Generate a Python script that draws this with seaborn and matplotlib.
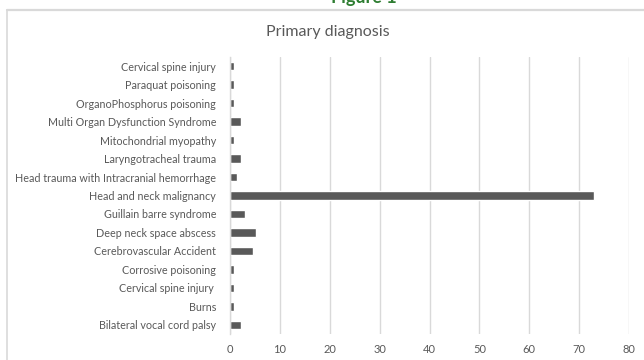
import matplotlib
matplotlib.use("Agg")
import matplotlib.pyplot as plt
import seaborn as sns
import pandas as pd
from matplotlib.lines import Line2D

# Primary diagnosis categories (top to bottom) and their share (%)
diagnoses = [
    "Cervical spine injury",
    "Paraquat poisoning",
    "OrganoPhosphorus poisoning",
    "Multi Organ Dysfunction Syndrome",
    "Mitochondrial myopathy",
    "Laryngotracheal trauma",
    "Head trauma with Intracranial hemorrhage",
    "Head and neck malignancy",
    "Guillain barre syndrome",
    "Deep neck space abscess",
    "Cerebrovascular Accident",
    "Corrosive poisoning",
    "Cervical spine injury ",
    "Burns",
    "Bilateral vocal cord palsy",
]
percent = [0.8, 0.8, 0.8, 2.2, 0.8, 2.2, 1.4, 73.0, 3.0, 5.2, 4.6, 0.8, 0.8, 0.8, 2.2]
x_ticks = [0, 10, 20, 30, 40, 50, 60, 70, 80]

df = pd.DataFrame({"diagnosis": diagnoses, "percent": percent})

sns.set_theme(style="white")
plt.rcParams["font.family"] = ["Lato", "DejaVu Sans"]

fig = plt.figure(figsize=(6.44, 3.60), dpi=100)
W, H = 644, 360
ax = fig.add_axes([230 / W, 1 - 334 / H, 399 / W, 277 / H])

sns.barplot(data=df, x="percent", y="diagnosis", orient="h", color="#595959",
            saturation=1, width=0.46, ax=ax)

ax.set_xlim(0, 80)
ax.set_xticks(x_ticks)
ax.set_xticklabels([str(t) for t in x_ticks])
ax.set_ylim(len(diagnoses) - 0.5, -0.5)
ax.xaxis.grid(True, color="#d9d9d9", linewidth=1)
ax.set_axisbelow(True)
for s in ["top", "right", "bottom"]:
    ax.spines[s].set_visible(False)
ax.spines["left"].set_color("#d9d9d9")
ax.spines["left"].set_linewidth(1)
ax.set_xlabel("")
ax.set_ylabel("")
ax.tick_params(axis="y", length=0, pad=10, labelsize=7.75, labelcolor="#595959")
ax.tick_params(axis="x", length=0, pad=7, labelsize=8, labelcolor="#595959")

# Chart frame (top and left edges)
fig.add_artist(Line2D([7 / W, 1], [1 - 10 / H, 1 - 10 / H], transform=fig.transFigure,
                      color="#d9d9d9", linewidth=1.6))
fig.add_artist(Line2D([7 / W, 7 / W], [1 - 10 / H, 0], transform=fig.transFigure,
                      color="#d9d9d9", linewidth=1.2))

fig.text(328 / W, 1 - 32 / H, "Primary diagnosis", ha="center", va="center",
         fontsize=11.5, color="#595959")
fig.text(364 / W, 1 - 6 / H, "Figure 1", ha="center", va="bottom",
         fontsize=13, fontweight="bold", color="#2e7d32")

fig.savefig("out.png", dpi=100)
